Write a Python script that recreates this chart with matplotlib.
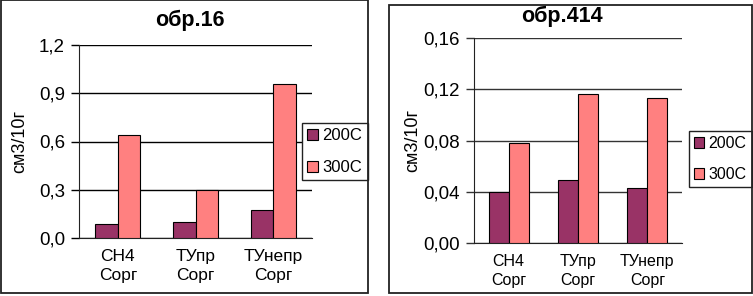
import numpy as np
import matplotlib
matplotlib.use("Agg")
import matplotlib.pyplot as plt
import matplotlib.transforms as mtrans
from matplotlib.patches import Rectangle

plt.rcParams['font.family'] = ['Liberation Sans', 'DejaVu Sans']

categories = ["СН4\nСорг", "ТУпр\nСорг", "ТУнепр\nСорг"]
series = ["200C", "300C"]
s16_200 = [0.09, 0.10, 0.175]
s16_300 = [0.64, 0.30, 0.96]
s414_200 = [0.040, 0.049, 0.043]
s414_300 = [0.078, 0.116, 0.113]
ticks16 = [0.0, 0.3, 0.6, 0.9, 1.2]
ticks414 = [0.0, 0.04, 0.08, 0.12, 0.16]

c200 = '#993366'
c300 = '#ff8080'

W, H = 753, 296
fig = plt.figure(figsize=(W / 100, H / 100), dpi=100)


def px(x0, y0, x1, y1):
    # pixel box (top-left origin) -> figure fraction
    return [x0 / W, 1 - y1 / H, (x1 - x0) / W, (y1 - y0) / H]


def frame(x0, y0, x1, y1):
    r = Rectangle((x0 / W, 1 - y1 / H), (x1 - x0) / W, (y1 - y0) / H,
                  transform=fig.transFigure, fill=False, ec='#222222', lw=1.3)
    fig.patches.append(r)


def panel(box, v200, v300, ticks, fmt, title, tpos, ylab_x, leg_box, lab_dx, lab_dy, gridc, xfs, lfs):
    ax = fig.add_axes(px(*box))
    x = np.arange(len(categories))
    w = 0.29
    ax.bar(x - w / 2, v200, w, color=c200, edgecolor='black', lw=0.8, zorder=3, label=series[0])
    ax.bar(x + w / 2, v300, w, color=c300, edgecolor='black', lw=0.8, zorder=3, label=series[1])
    ax.set_xlim(-0.5, len(categories) - 0.5)
    ax.set_ylim(ticks[0], ticks[-1])
    ax.set_yticks(ticks)
    ax.set_yticklabels([fmt.format(t).replace('.', ',') for t in ticks], fontsize=13.5)
    ax.set_xticks(x)
    ax.set_xticklabels(categories, fontsize=xfs, linespacing=1.3)
    for lbl, dx, dy in zip(ax.get_xticklabels(), lab_dx, lab_dy):
        lbl.set_transform(lbl.get_transform() + mtrans.ScaledTranslation(dx / 100, dy / 100, fig.dpi_scale_trans))
    ax.tick_params(axis='x', length=0, pad=8)
    ax.tick_params(axis='y', length=6, width=1, color=gridc, pad=4)
    ax.yaxis.grid(True, color=gridc, lw=1, zorder=0)
    for s in ['top', 'right']:
        ax.spines[s].set_visible(False)
    ax.spines['left'].set_color('#222222')
    ax.spines['bottom'].set_color('#222222')
    fig.text(ylab_x / W, 1 - ((box[1] + box[3]) / 2) / H, "см3/10г", rotation=90,
             ha='center', va='center', fontsize=13)
    fig.text(tpos[0] / W, 1 - tpos[1] / H, title, ha='center', va='center',
             fontsize=15.5, fontweight='bold')
    leg = ax.legend(loc='upper left', bbox_to_anchor=(leg_box[0] / W, 1 - leg_box[1] / H),
                    bbox_transform=fig.transFigure, fancybox=False, framealpha=1,
                    edgecolor='#222222', fontsize=lfs, handlelength=0.65, handleheight=0.65,
                    handletextpad=0.25, labelspacing=1.0, borderpad=0.32, borderaxespad=0)
    leg.get_frame().set_linewidth(1)
    leg.set_zorder(5)
    return ax


panel((79, 45, 312, 238), s16_200, s16_300, ticks16, "{:.1f}", "обр.16", (190, 20), 20,
      (302, 123), [0, 0, 0], [0, 0, 4], 'black', 12.5, 12)
panel((474, 38, 682, 243), s414_200, s414_300, ticks414, "{:.2f}", "обр.414", (562, 16), 413,
      (689, 131), [-20, -10, 5], [0, 0, 0], '#333333', 11.5, 11.5)

frame(1, 0, 368, 293)
frame(389, 5, 752, 293)

fig.savefig("out.png", dpi=100)
